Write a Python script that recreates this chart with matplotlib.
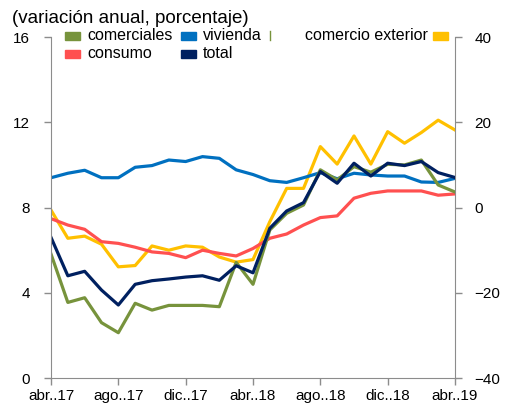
import matplotlib
matplotlib.use("Agg")
import matplotlib.pyplot as plt
from matplotlib.patches import Rectangle
from matplotlib.lines import Line2D
import numpy as np

plt.rcParams["font.family"] = ["Liberation Sans", "DejaVu Sans"]

# monthly, abr.17 .. abr.19
months = np.arange(25)
tick_labels = ["abr..17", "ago..17", "dic..17", "abr..18", "ago..18", "dic..18", "abr..19"]

comerciales = [5.82, 3.55, 3.77, 2.60, 2.13, 3.51, 3.19, 3.41, 3.41, 3.41, 3.35, 5.43, 4.40,
               6.95, 7.73, 8.12, 9.77, 9.30, 9.92, 9.66, 10.03, 10.00, 10.23, 9.06, 8.73]
vivienda = [9.40, 9.61, 9.75, 9.40, 9.40, 9.89, 9.97, 10.23, 10.16, 10.39, 10.31, 9.77, 9.55,
            9.26, 9.18, 9.40, 9.64, 9.35, 9.61, 9.53, 9.48, 9.48, 9.20, 9.18, 9.37]
consumo = [7.48, 7.18, 6.98, 6.40, 6.32, 6.14, 5.92, 5.85, 5.65, 6.00, 5.85, 5.73, 6.08,
           6.56, 6.76, 7.18, 7.53, 7.61, 8.44, 8.67, 8.78, 8.78, 8.78, 8.58, 8.64]
total = [6.60, 4.80, 5.01, 4.13, 3.43, 4.40, 4.57, 4.65, 4.74, 4.80, 4.59, 5.27, 4.94,
         7.03, 7.84, 8.23, 9.69, 9.14, 10.08, 9.48, 10.08, 9.97, 10.16, 9.64, 9.41]
# right axis
comercio_exterior = [-0.6, -7.2, -6.7, -8.6, -13.9, -13.6, -9.0, -10.0, -9.0, -9.3, -11.6, -12.8, -12.2,
                     -3.3, 4.5, 4.5, 14.3, 10.2, 16.8, 10.2, 17.8, 15.1, 17.6, 20.5, 18.2]

GREEN = "#77933C"
BLUE = "#0070C0"
RED = "#FF5050"
NAVY = "#002060"
YELLOW = "#FFC000"
GRAY = "#8c8c8c"

fig = plt.figure(figsize=(5.05, 4.07), dpi=100)
ax = fig.add_axes([0.101, 0.071, 0.800, 0.838])
ax2 = ax.twinx()

lw = 2.3
ax2.plot(months, comercio_exterior, color=YELLOW, lw=lw, zorder=2)
ax.plot(months, consumo, color=RED, lw=lw)
ax.plot(months, vivienda, color=BLUE, lw=lw)
ax.plot(months, comerciales, color=GREEN, lw=lw)
ax.plot(months, total, color=NAVY, lw=lw)
ax.set_zorder(ax2.get_zorder() + 1)
ax.patch.set_visible(False)

ax.set_xlim(0, 24)
ax.set_ylim(0, 16)
ax.set_yticks([0, 4, 8, 12, 16])
ax2.set_ylim(-40, 40)
ax2.set_yticks([-40, -20, 0, 20, 40])
ax.set_xticks(months[::4])
ax.set_xticklabels(tick_labels)

for a in (ax, ax2):
    a.spines["top"].set_visible(False)
    for s in a.spines.values():
        s.set_color(GRAY)
    a.tick_params(colors=GRAY, labelcolor="black", labelsize=11, length=5, width=1)
ax.spines["right"].set_visible(False)
ax2.spines["left"].set_visible(False)
ax2.spines["bottom"].set_visible(False)
ax.tick_params(axis="y", pad=10)
ax2.tick_params(axis="y", pad=9)
ax.tick_params(axis="x", pad=3)

fig.text(0.024, 0.955, "(variación anual, porcentaje)", fontsize=13.5, va="center", ha="left")

# legend drawn by hand to keep the original arrangement
def patch_entry(x, y, color, label, label_left=False):
    fig.add_artist(Rectangle((x / 505, 1 - (y + 4) / 407), 15 / 505, 8 / 407,
                             transform=fig.transFigure, color=color))
    if label_left:
        fig.text((x - 5) / 505, 1 - y / 407, label, fontsize=11.5, va="center", ha="right")
    else:
        fig.text((x + 22) / 505, 1 - y / 407, label, fontsize=11.5, va="center", ha="left")

patch_entry(65, 36, GREEN, "comerciales")
patch_entry(181, 36, BLUE, "vivienda")
patch_entry(433, 36, YELLOW, "comercio exterior", label_left=True)
patch_entry(65, 54, RED, "consumo")
patch_entry(181, 54, NAVY, "total")
fig.add_artist(Line2D([270 / 505, 270 / 505], [1 - 31 / 407, 1 - 40 / 407],
                      transform=fig.transFigure, color=GREEN, lw=1))

fig.savefig("out.png", dpi=100)
